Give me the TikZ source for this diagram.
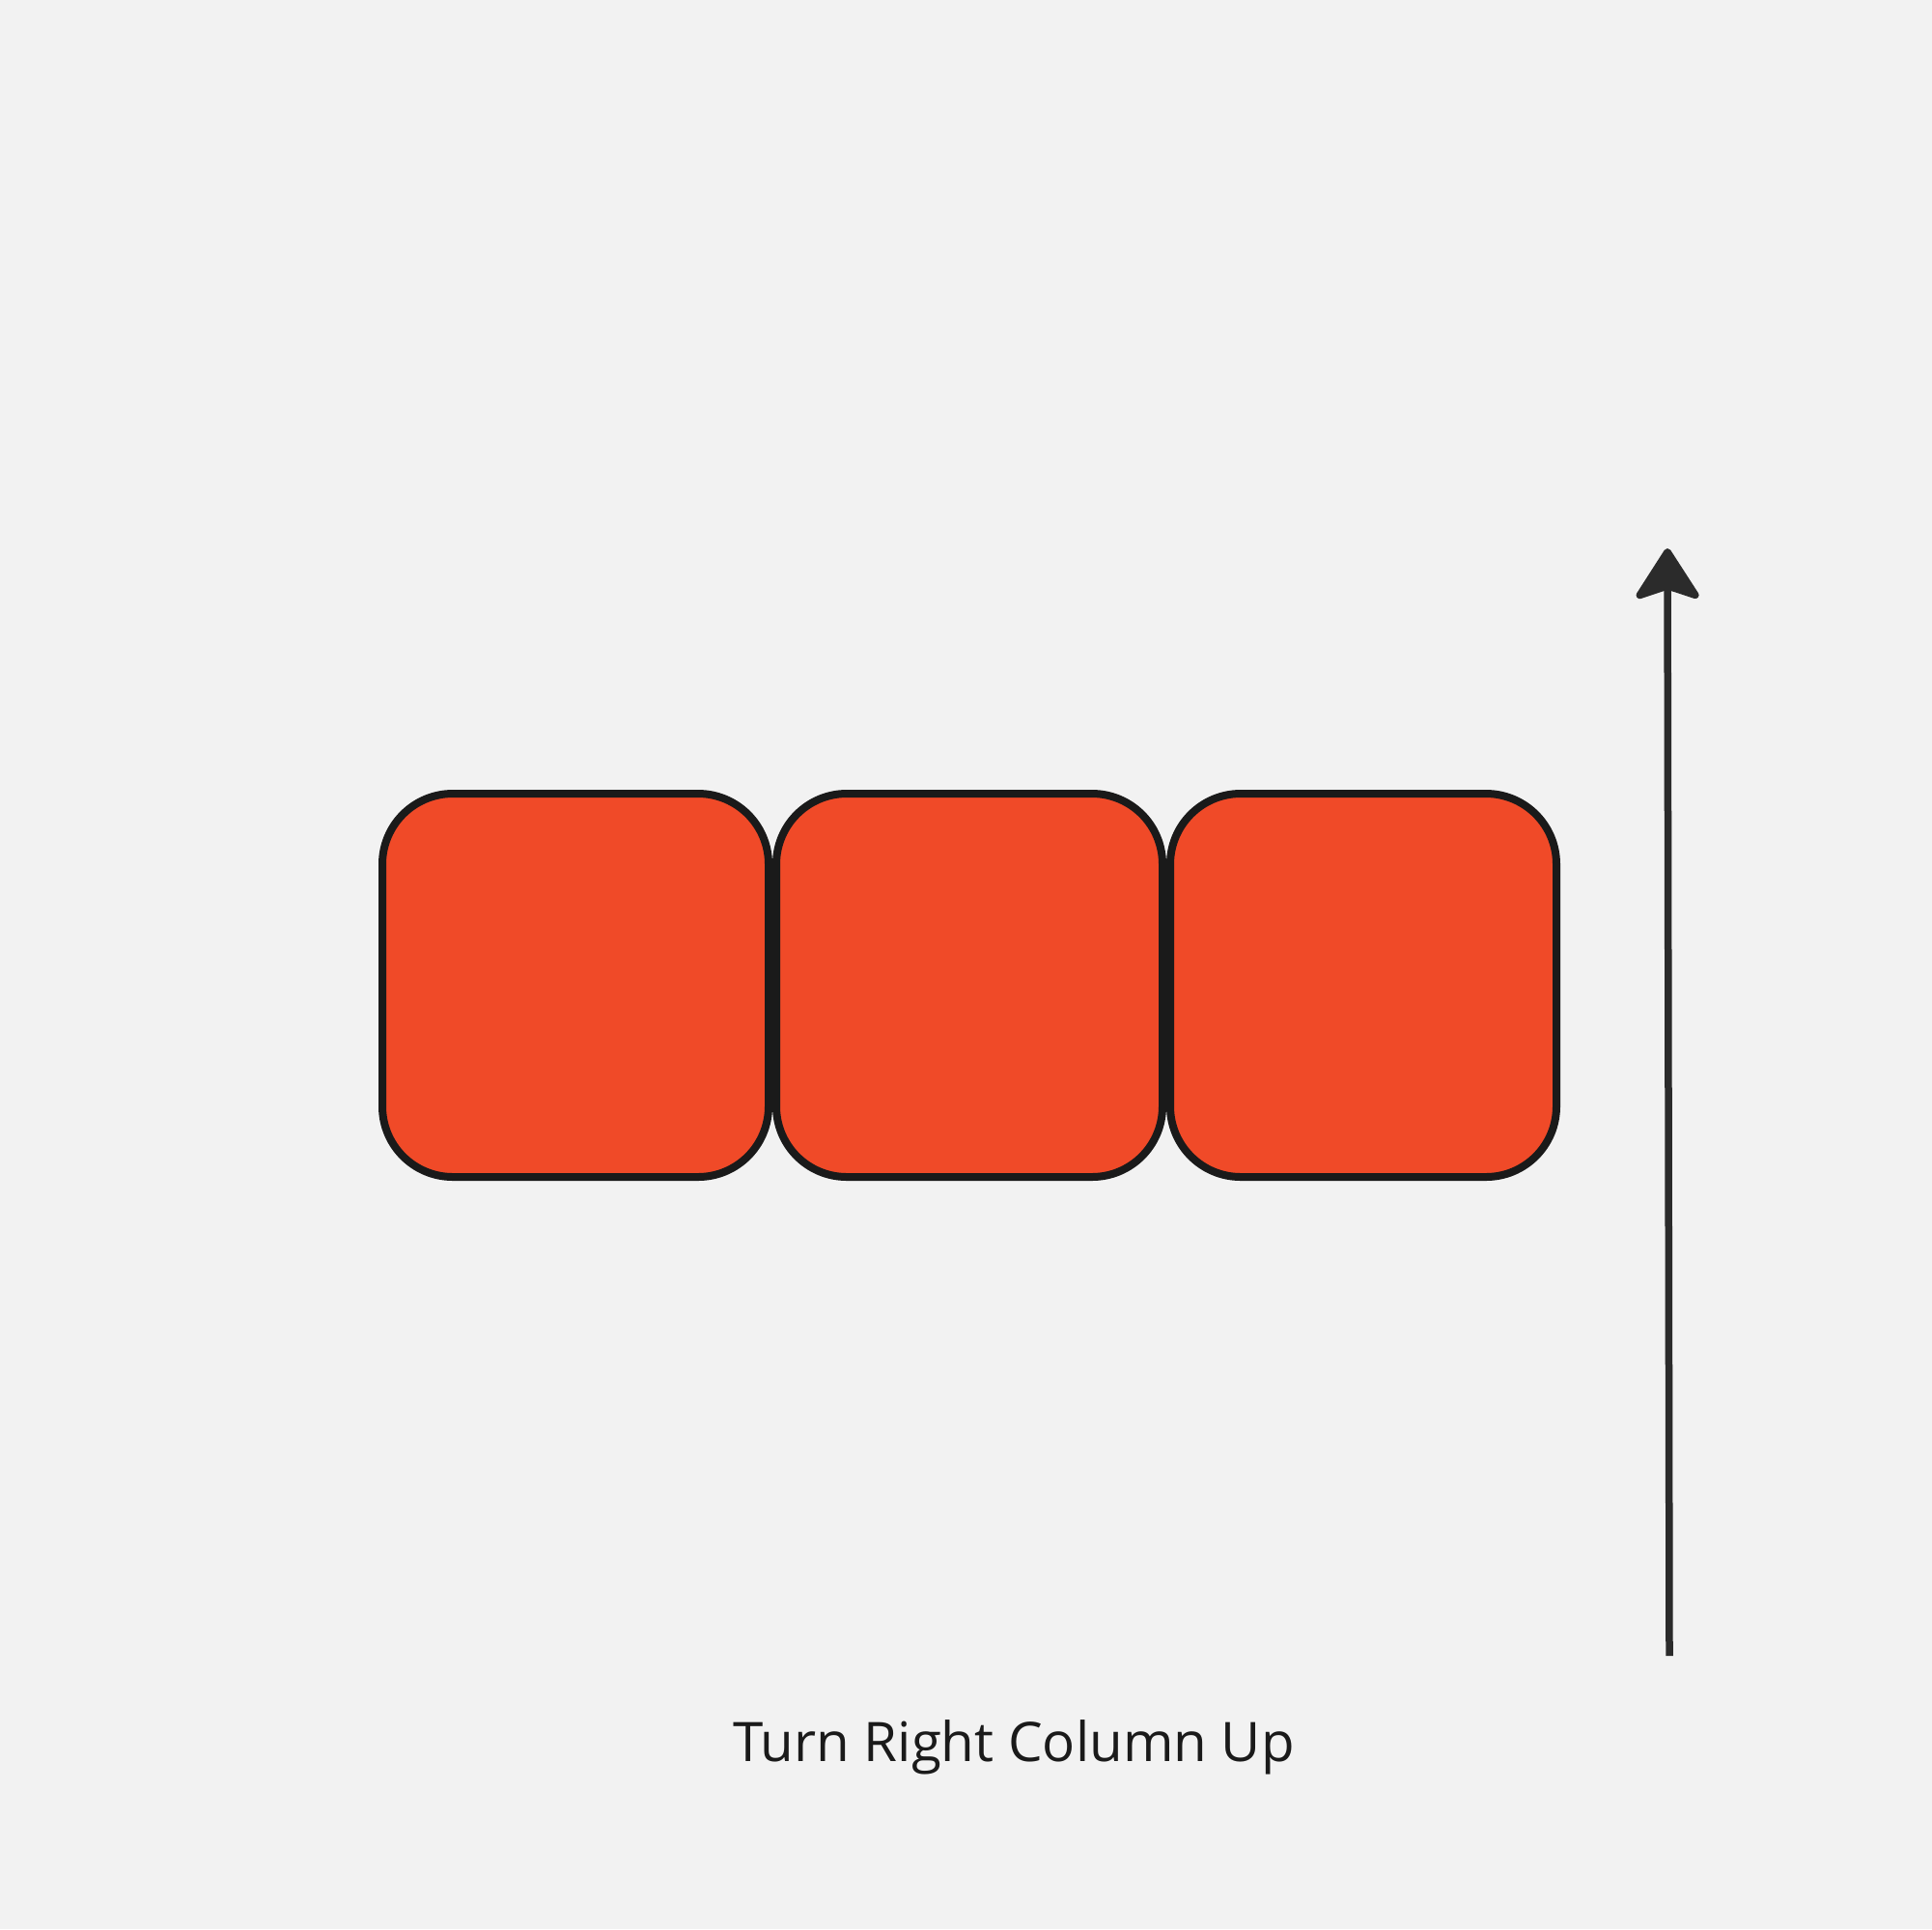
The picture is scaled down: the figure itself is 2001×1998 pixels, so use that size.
\documentclass[tikz,border=0pt]{standalone}
\usepackage{fontspec}
\setmainfont{Open Sans}
\usetikzlibrary{arrows.meta}
\definecolor{bg}{HTML}{F2F2F2}
\definecolor{tile}{HTML}{F04A28}
\definecolor{edge}{HTML}{1A1A1A}
\definecolor{arrowc}{HTML}{2B2B2B}
\tikzset{
  tilebox/.style={draw=edge, fill=tile, line width=8pt, rounded corners=73pt,
    minimum width=400pt, minimum height=397pt, inner sep=0pt},
  upline/.style={draw=arrowc, line width=7.5pt,
    -{Stealth[length=58pt, width=74pt, inset=12pt, round]}},
  caption/.style={text=edge, font=\fontsize{56.5pt}{68pt}\selectfont, anchor=base}
}
\begin{document}
\begin{tikzpicture}[x=1pt,y=-1pt]
\fill[bg] (0,0) rectangle (2001,1998);
\useasboundingbox (0,0) rectangle (2001,1998);
\node[tilebox] (t1) at (596,1020.5) {};
\node[tilebox] (t2) at (1004,1020.5) {};
\node[tilebox] (t3) at (1412,1020.5) {};
\coordinate (abot) at (1729,1715);
\coordinate (atop) at (1727,568);
\draw[upline] (abot) -- (atop);
\node[caption] (cap) at (1050,1824) {Turn Right Column Up};
\end{tikzpicture}
\end{document}
